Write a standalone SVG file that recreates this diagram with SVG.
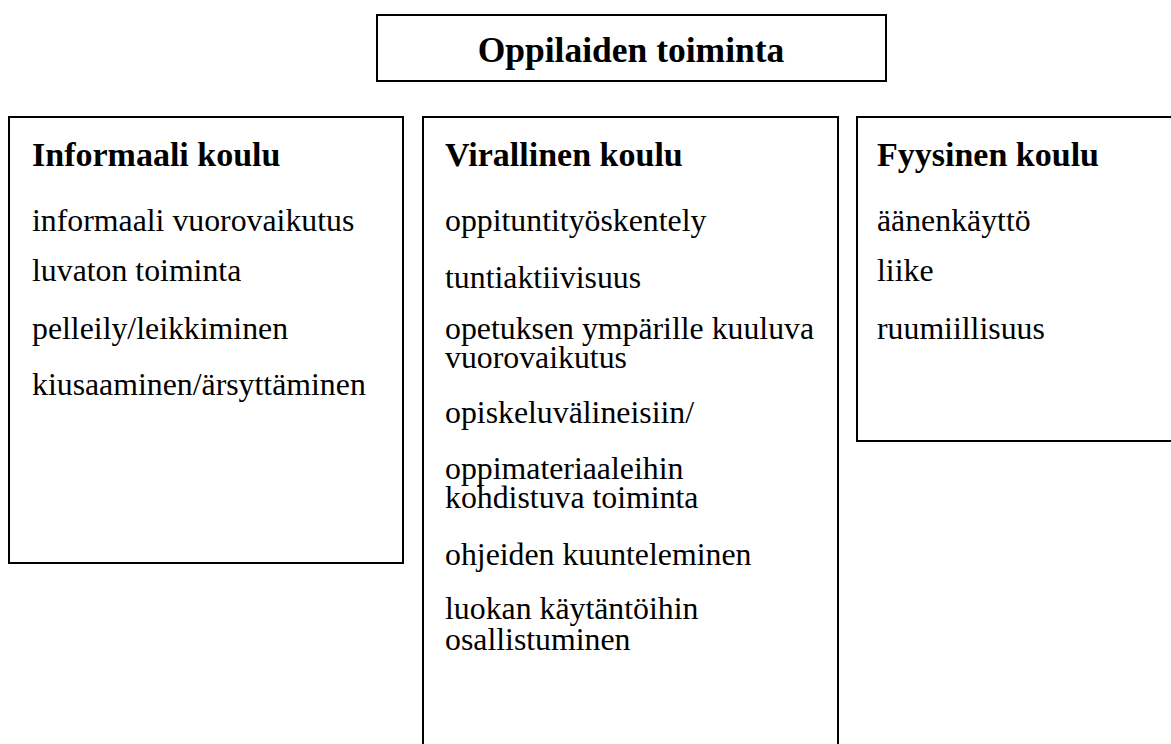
<svg xmlns="http://www.w3.org/2000/svg" width="1171" height="744" viewBox="0 0 1171 744">
<style>
.box{fill:#fff;stroke:#000;stroke-width:2}
.title{font-family:"Liberation Serif","Times New Roman",serif;font-weight:bold;font-size:35.5px;fill:#000}
.head{font-family:"Liberation Serif","Times New Roman",serif;font-weight:bold;font-size:34px;fill:#000}
.t{font-family:"Liberation Serif","Times New Roman",serif;font-size:31.8px;fill:#000}
</style>
<rect width="1171" height="744" fill="#fff"/>
<g id="title">
<rect class="box" x="377" y="15" width="509" height="66"/>
<text class="title" x="631" y="62" text-anchor="middle">Oppilaiden toiminta</text>
</g>
<g id="informaali">
<rect class="box" x="9" y="117" width="394" height="446"/>
<text class="head" x="32" y="166">Informaali koulu</text>
<text class="t" x="32" y="231">informaali vuorovaikutus</text>
<text class="t" x="32" y="281">luvaton toiminta</text>
<text class="t" x="32" y="339">pelleily/leikkiminen</text>
<text class="t" x="32" y="395">kiusaaminen/ärsyttäminen</text>
</g>
<g id="virallinen">
<rect class="box" x="423" y="117" width="415" height="640"/>
<text class="head" x="445" y="166">Virallinen koulu</text>
<text class="t" x="445" y="231">oppituntityöskentely</text>
<text class="t" x="445" y="288">tuntiaktiivisuus</text>
<text class="t" x="445" y="339">opetuksen ympärille kuuluva</text>
<text class="t" x="445" y="368">vuorovaikutus</text>
<text class="t" x="445" y="423">opiskeluvälineisiin/</text>
<text class="t" x="445" y="479">oppimateriaaleihin</text>
<text class="t" x="445" y="508">kohdistuva toiminta</text>
<text class="t" x="445" y="565">ohjeiden kuunteleminen</text>
<text class="t" x="445" y="619">luokan käytäntöihin</text>
<text class="t" x="445" y="650">osallistuminen</text>
</g>
<g id="fyysinen">
<rect class="box" x="857" y="117" width="330" height="324"/>
<text class="head" x="877" y="166">Fyysinen koulu</text>
<text class="t" x="877" y="231">äänenkäyttö</text>
<text class="t" x="877" y="281">liike</text>
<text class="t" x="877" y="339">ruumiillisuus</text>
</g>
<g id="connectors"/>
</svg>
